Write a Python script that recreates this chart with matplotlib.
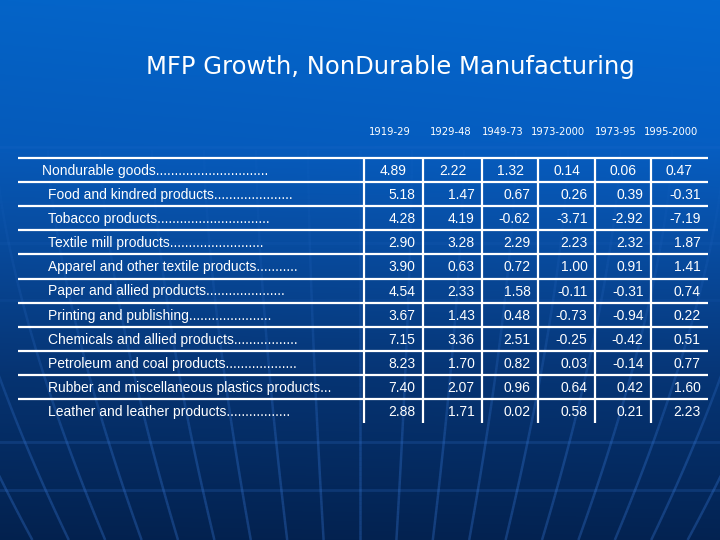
import numpy as np
import matplotlib
matplotlib.use('Agg')
import matplotlib.pyplot as plt
from matplotlib.collections import LineCollection

# 표 데이터
title = "MFP Growth, NonDurable Manufacturing"
periods = ["1919-29", "1929-48", "1949-73", "1973-2000", "1973-95", "1995-2000"]
industries = [
    "Nondurable goods",
    "Food and kindred products",
    "Tobacco products",
    "Textile mill products",
    "Apparel and other textile products",
    "Paper and allied products",
    "Printing and publishing",
    "Chemicals and allied products",
    "Petroleum and coal products",
    "Rubber and miscellaneous plastics products",
    "Leather and leather products",
]
leader_dots = [30, 21, 30, 25, 11, 21, 22, 17, 19, 3, 17]
mfp = [
    [4.89, 2.22, 1.32, 0.14, 0.06, 0.47],
    [5.18, 1.47, 0.67, 0.26, 0.39, -0.31],
    [4.28, 4.19, -0.62, -3.71, -2.92, -7.19],
    [2.90, 3.28, 2.29, 2.23, 2.32, 1.87],
    [3.90, 0.63, 0.72, 1.00, 0.91, 1.41],
    [4.54, 2.33, 1.58, -0.11, -0.31, 0.74],
    [3.67, 1.43, 0.48, -0.73, -0.94, 0.22],
    [7.15, 3.36, 2.51, -0.25, -0.42, 0.51],
    [8.23, 1.70, 0.82, 0.03, -0.14, 0.77],
    [7.40, 2.07, 0.96, 0.64, 0.42, 1.60],
    [2.88, 1.71, 0.02, 0.58, 0.21, 2.23],
]

W, H = 720, 540
fig = plt.figure(figsize=(7.2, 5.4), dpi=100)
ax = fig.add_axes([0, 0, 1, 1])
ax.set_xlim(0, W)
ax.set_ylim(H, 0)
ax.axis('off')

# 배경 그라데이션
yy = np.linspace(0, 1, H)[:, None]
xx = np.linspace(0, 1, W)[None, :]
stops_y = [0.0, 0.27, 0.45, 0.7, 1.0]
stops_c = np.array([[4, 102, 204], [6, 92, 190], [8, 76, 160], [6, 52, 115], [3, 34, 80]]) / 255.0
bg = np.zeros((H, W, 3))
for k in range(3):
    bg[:, :, k] = np.interp(yy[:, 0], stops_y, stops_c[:, k])[:, None] * np.ones((1, W))
bg *= (1.0 + 0.04 * (xx - 0.5))[:, :, None]
ax.imshow(np.clip(bg, 0, 1), extent=[0, W, H, 0], zorder=0, aspect='auto')

# 지구본 경선/위선 장식
ys = np.linspace(150, 540, 80)
segs, cols = [], []
for d in np.arange(-9, 10) * 52:
    xs = 360 + d * (1.0 - 0.3 * ((ys - 150) / 390) ** 1.5)
    pts = np.column_stack([xs, ys])
    for a, b, yv in zip(pts[:-1], pts[1:], ys[:-1]):
        segs.append([a, b])
        f = np.clip((yv - 200) / 260, 0, 1)
        cols.append((0.22, 0.48, 0.85, 0.06 + 0.26 * f))
ax.add_collection(LineCollection(segs, colors=cols, linewidths=1.8, zorder=1))
for yl, al in [(147, 0.10), (243, 0.08), (300, 0.08), (442, 0.2), (490, 0.2)]:
    ax.plot([0, W], [yl, yl], color=(0.22, 0.48, 0.85), alpha=al, lw=2, zorder=1)

# 제목
ax.text(390, 67, title, ha='center', va='center', color='white',
        fontsize=17.5, family='DejaVu Sans', zorder=5)

# 표 배치
col_edges = [364, 423, 482, 538, 595, 651, 708]
header_x = [390, 451, 503, 558, 616, 671]
table_left = 18
top = 158
row_h = 24.1
nrows = len(industries)
bottom = top + row_h * nrows

for hx, p in zip(header_x, periods):
    ax.text(hx, 132, p, ha='center', va='center',
            color='white', fontsize=7.2, family='DejaVu Sans', zorder=5)

for i in range(nrows):
    ax.plot([table_left, col_edges[-1]], [top + row_h * i] * 2, color='white', lw=1.6,
            solid_capstyle='butt', zorder=4)
for xv in col_edges[:-1]:
    ax.plot([xv, xv], [top, bottom], color='white', lw=1.6, solid_capstyle='butt', zorder=4)

for i, (name, nd, vals) in enumerate(zip(industries, leader_dots, mfp)):
    yc = top + row_h * i + 13
    x0 = 42 if i == 0 else 48
    ax.text(x0, yc, name + "." * nd, ha='left', va='center', color='white',
            fontsize=10, family='Liberation Sans', zorder=5)
    for j, v in enumerate(vals):
        if i == 0:
            ax.text((col_edges[j] + col_edges[j + 1]) / 2, yc, f"{v:.2f}", ha='center',
                    va='center', color='white', fontsize=10, family='Liberation Sans', zorder=5)
        else:
            ax.text(col_edges[j + 1] - 7.5, yc, f"{v:.2f}", ha='right', va='center',
                    color='white', fontsize=10, family='Liberation Sans', zorder=5)

fig.savefig("out.png", dpi=100)
plt.close(fig)
